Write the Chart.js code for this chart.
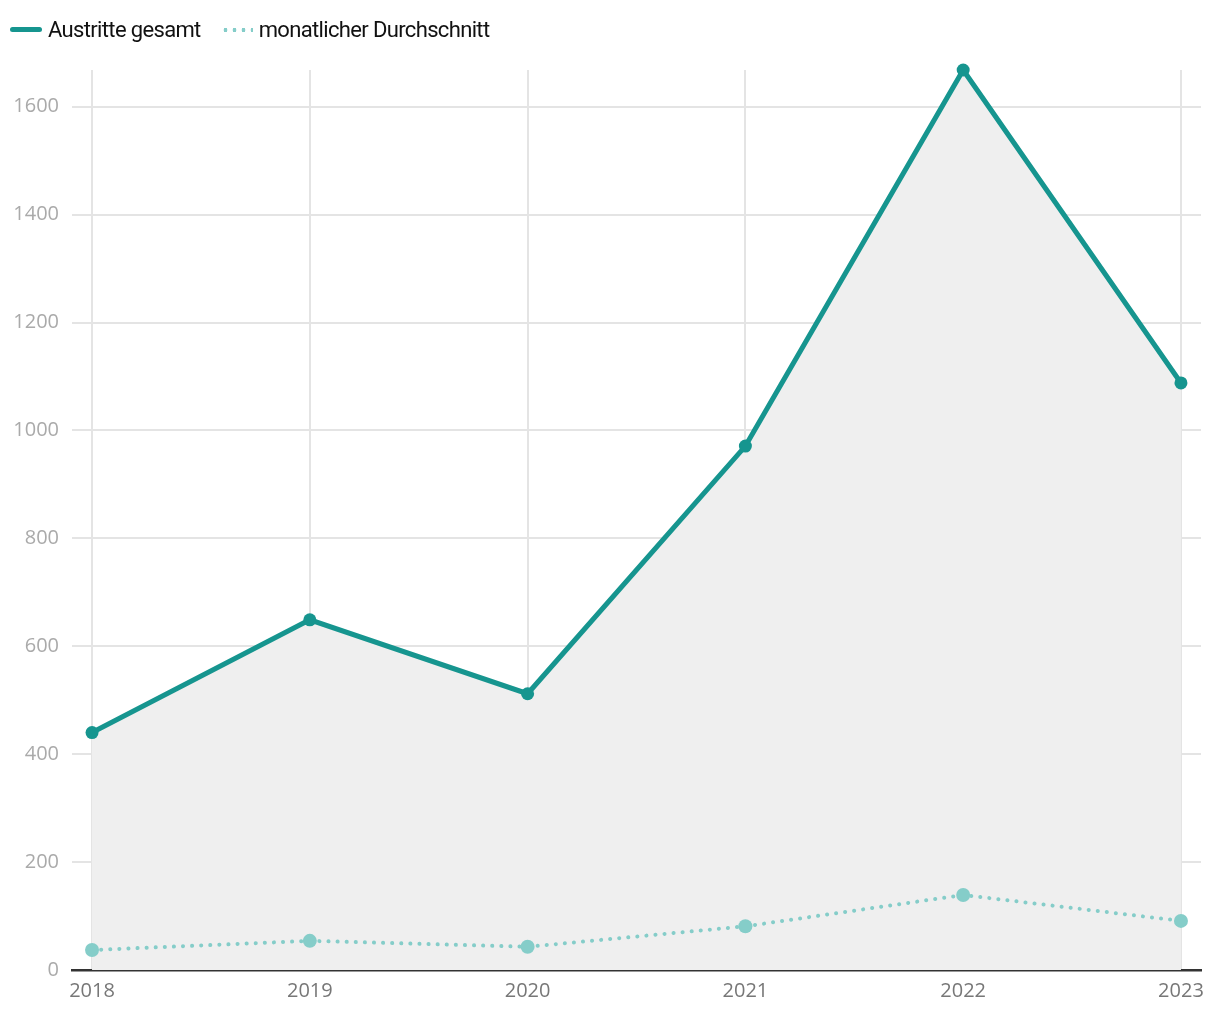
<!DOCTYPE html>
<html>
<head>
<meta charset="utf-8">
<script src="https://cdn.jsdelivr.net/npm/chart.js@4/dist/chart.umd.min.js"></script>
<style>
  html, body { margin: 0; padding: 0; background: #fff; }
  #wrap { position: relative; width: 1220px; height: 1020px; }
  #legend { position: absolute; left: 10px; top: 17px; display: flex; align-items: center;
            font-family: "Roboto", sans-serif; font-size: 22px; letter-spacing: -0.65px; color: #111; }
  .item { display: flex; align-items: center; margin-right: 20px; }
  .sw { display: inline-block; width: 32px; margin-right: 6px; }
  .solid { height: 5px; border-radius: 3px; background: #16958f; }
  .dots { height: 4px; background-image: radial-gradient(circle, #85cdc9 1.9px, transparent 2.1px);
          background-size: 9px 4px; background-repeat: repeat-x; }
  canvas { position: absolute; left: 0; top: 0; }
</style>
</head>
<body>
<div id="wrap">
  <canvas id="c" width="1220" height="1020"></canvas>
  <div id="legend">
    <div class="item"><span class="sw solid"></span><span>Austritte gesamt</span></div>
    <div class="item"><span class="sw dots"></span><span>monatlicher Durchschnitt</span></div>
  </div>
</div>
<script>
const years = [2018, 2019, 2020, 2021, 2022, 2023];
const austritteGesamt = [440, 649, 512, 971, 1668, 1088];
const monatlicherDurchschnitt = [37, 54, 43, 81, 139, 91];
const yTicks = [0, 200, 400, 600, 800, 1000, 1200, 1400, 1600];
const seriesNames = ['Austritte gesamt', 'monatlicher Durchschnitt'];

const pts = (vals) => years.map((y, i) => ({ x: y, y: vals[i] }));

new Chart(document.getElementById('c'), {
  type: 'line',
  data: {
    datasets: [
      {
        label: seriesNames[0],
        data: pts(austritteGesamt),
        borderColor: '#16958f',
        backgroundColor: '#efefef',
        borderWidth: 5,
        pointRadius: 6.5,
        pointBackgroundColor: '#16958f',
        pointBorderWidth: 0,
        fill: 'origin',
        tension: 0,
        clip: false
      },
      {
        label: seriesNames[1],
        data: pts(monatlicherDurchschnitt),
        borderColor: '#85cdc9',
        borderWidth: 4,
        borderDash: [0.1, 9],
        borderCapStyle: 'round',
        pointRadius: 7,
        pointBackgroundColor: '#85cdc9',
        pointBorderWidth: 0,
        fill: false,
        tension: 0,
        clip: false
      }
    ]
  },
  options: {
    responsive: false,
    animation: false,
    layout: { padding: { top: 70, right: 19, left: 0, bottom: 0 } },
    plugins: {
      legend: { display: false },
      tooltip: { enabled: false },
      filler: { drawTime: 'beforeDatasetsDraw' }
    },
    scales: {
      x: {
        type: 'linear',
        min: 2017.908,
        max: 2023.092,
        afterBuildTicks: (s) => { s.ticks = years.map(v => ({ value: v })); },
        afterFit: (s) => { s.height = 50; },
        grid: { color: '#e4e4e4', lineWidth: 2, drawTicks: false },
        border: { display: true, color: '#333', width: 2.5 },
        ticks: {
          color: '#777',
          font: { family: 'Open Sans', size: 20 },
          padding: 9,
          maxRotation: 0,
          autoSkip: false,
          callback: (v) => String(v)
        }
      },
      y: {
        min: 0,
        max: 1668,
        afterBuildTicks: (s) => { s.ticks = yTicks.map(v => ({ value: v })); },
        afterFit: (s) => { s.width = 72; },
        grid: { color: '#e4e4e4', lineWidth: 2, drawTicks: false },
        border: { display: false },
        ticks: {
          color: '#aaa',
          font: { family: 'Open Sans', size: 20 },
          padding: 13,
          callback: (v) => String(v)
        }
      }
    }
  }
});
</script>
</body>
</html>
